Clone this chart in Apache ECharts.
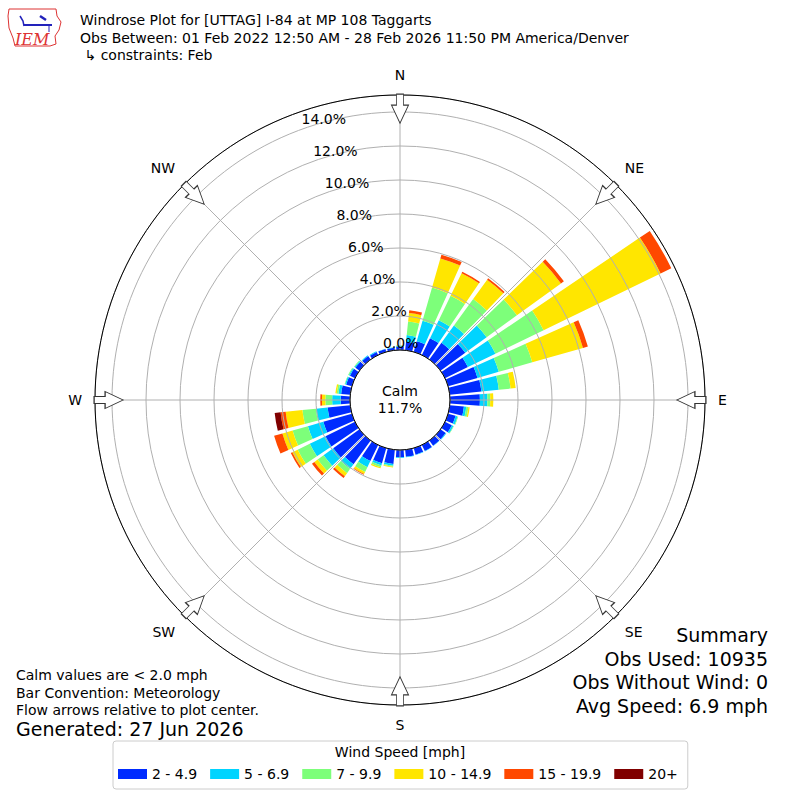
<!DOCTYPE html>
<html><head><meta charset="utf-8">
<script src="https://cdn.jsdelivr.net/npm/echarts@6/dist/echarts.min.js"></script>
<style>html,body{margin:0;padding:0;background:#fff}#c{width:800px;height:800px}</style>
</head><body><div id="c"></div>
<script>
// ---------------- data ----------------
const directions = [0,10,20,30,40,50,60,70,80,90,100,110,120,130,140,150,160,170,180,190,200,210,220,230,240,250,260,270,280,290,300,310,320,330,340,350];
const speedBins = ['2 - 4.9','5 - 6.9','7 - 9.9','10 - 14.9','15 - 19.9','20+'];
// percent of observations per direction, per speed bin
const pct_2_4_9   = [0.2,0.5,0.65,1.1,1.22,1.8,1.5,1.8,1.87,1.76,0.84,0.46,0.45,0.38,0.38,0.4,0.4,0.42,0.42,0.84,0.92,1.05,1.72,1.91,1.93,1.75,1.34,0.55,0.54,0.35,0.33,0.3,0.25,0.2,0.18,0.15];
const pct_5_6_9   = [0.05,0.4,1.25,1.18,1.25,1.55,1.8,1.3,1.03,0.44,0.14,0.12,0.1,0.04,0.02,0.02,0.02,0.03,0.05,0.1,0.14,0.4,0.34,0.7,1.03,0.94,0.69,0.5,0.16,0.07,0.07,0.06,0.05,0.05,0.02,0.03];
const pct_7_9_9   = [0.02,0.8,2.04,1.59,1.93,2.2,3.15,2.05,0.7,0.17,0.12,0.04,0.03,0,0,0,0,0,0,0.06,0.11,0.31,0.31,0.43,0.79,0.94,0.8,0.4,0.1,0.03,0.05,0.04,0,0,0,0];
const pct_10_14_9 = [0,0.5,1.78,1.48,1.4,3.2,7.65,3.1,0.3,0.18,0.08,0,0,0,0,0,0,0,0,0.05,0.07,0.14,0.22,0.24,0.35,0.62,0.99,0.2,0.08,0,0,0,0,0,0,0];
const pct_15_19_9 = [0,0.17,0.23,0.1,0.1,0.21,0.7,0.3,0,0,0,0,0,0,0,0,0,0,0,0,0,0.05,0.13,0.17,0.1,0.51,0.3,0.1,0,0,0,0,0,0,0,0];
const pct_20_plus = [0,0,0,0,0,0,0,0,0,0,0,0,0,0,0,0,0,0,0,0,0,0,0,0,0,0,0.35,0,0,0,0,0,0,0,0,0];
const radialTicks = [0,2,4,6,8,10,12,14];
const compassLabels = ['N','NE','E','SE','S','SW','W','NW'];
const arrowAngles = [0,45,90,135,180,225,270,315];
const calmPct = 11.7;
const summaryLines = ['Summary','Obs Used: 10935','Obs Without Wind: 0','Avg Speed: 6.9 mph'];
const noteLines = ['Calm values are < 2.0 mph','Bar Convention: Meteorology','Flow arrows relative to plot center.'];
const titleLines = ['Windrose Plot for [UTTAG] I-84 at MP 108 Taggarts','Obs Between: 01 Feb 2022 12:50 AM - 28 Feb 2026 11:50 PM America/Denver',' \u21b3 constraints: Feb'];

// ---------------- styles ----------------
const FONT = 'DejaVu Sans';
const speedColors = ['#002BFF','#00D4FF','#7DFF7A','#FFE600','#FF4800','#800000'];
const seriesValues = [pct_2_4_9,pct_5_6_9,pct_7_9_9,pct_10_14_9,pct_15_19_9,pct_20_plus];
const arrowRadius = 14.2;
const RMAX = 15;

const chart = echarts.init(document.getElementById('c'), null, {renderer:'svg'});

const barSeries = speedBins.map((name,i)=>({
  name, type:'bar', coordinateSystem:'polar', polarIndex:1, stack:'wind',
  barCategoryGap:'18%', z:2, silent:true,
  itemStyle:{color:speedColors[i]},
  data: seriesValues[i]
}));

const graphics = [];
titleLines.forEach((t,i)=>graphics.push({type:'text',x:80,y:20+i*17.5,style:{text:t,fontSize:14,fontFamily:FONT,fill:'#000',align:'left',verticalAlign:'middle'}}));
noteLines.forEach((t,i)=>graphics.push({type:'text',x:16,y:675+i*17.5,style:{text:t,fontSize:14,fontFamily:FONT,fill:'#000',align:'left',verticalAlign:'middle'}}));
graphics.push({type:'text',x:16,y:729,style:{text:'Generated: 27 Jun 2026',fontSize:19,fontFamily:FONT,fill:'#000',align:'left',verticalAlign:'middle'}});
summaryLines.forEach((t,i)=>graphics.push({type:'text',x:768,y:635+i*23.5,style:{text:t,fontSize:19,fontFamily:FONT,fill:'#000',align:'right',verticalAlign:'middle'}}));
graphics.push({type:'text',x:400,y:391,z:10,style:{text:'Calm',fontSize:14,fontFamily:FONT,fill:'#000',align:'center',verticalAlign:'middle'}});
graphics.push({type:'text',x:400,y:408,z:10,style:{text:calmPct.toFixed(1)+'%',fontSize:14,fontFamily:FONT,fill:'#000',align:'center',verticalAlign:'middle'}});
graphics.push({type:'text',x:400,y:752,z:10,style:{text:'Wind Speed [mph]',fontSize:14,fontFamily:FONT,fill:'#000',align:'center',verticalAlign:'middle'}});
// IEM logo
graphics.push({type:'polyline',shape:{points:[[9,9],[56,9],[57,16],[61,22],[59,30],[55,36],[56,44],[50,46],[15,46],[13,38],[9,28],[8,16],[9,9]]},style:{stroke:'#d33',fill:'none',lineWidth:1}});
graphics.push({type:'polyline',shape:{points:[[20,16],[23,21],[24,26]]},style:{stroke:'#22b',fill:'none',lineWidth:1.5}});
graphics.push({type:'line',shape:{x1:24,y1:25,x2:52,y2:25},style:{stroke:'#22b',lineWidth:2}});
graphics.push({type:'line',shape:{x1:40,y1:16,x2:46,y2:20},style:{stroke:'#22b',lineWidth:2.5}});
graphics.push({type:'line',shape:{x1:49,y1:25,x2:49,y2:32},style:{stroke:'#22b',lineWidth:1}});
graphics.push({type:'text',x:15,y:39,style:{text:'IEM',fontSize:16,fontFamily:'DejaVu Serif',fontStyle:'italic',fill:'#d33',align:'left',verticalAlign:'middle'}});

const option = {
  animation:false,
  backgroundColor:'#fff',
  textStyle:{fontFamily:FONT},
  polar:[
    {center:['50%','50%'],radius:[50,305]},
    {center:['50%','50%'],radius:[50,305]},
    {center:['50%','50%'],radius:[50,305]}
  ],
  angleAxis:[
    {polarIndex:0,type:'value',min:0,max:360,interval:45,startAngle:90,clockwise:true,z:4,
     axisLine:{show:true,lineStyle:{color:'#000',width:1}},
     axisTick:{show:false},
     axisLabel:{show:true,margin:13,fontSize:14,color:'#000',fontFamily:FONT,
       formatter:v=> v>=360 ? '' : compassLabels[Math.round(v/45)]},
     splitLine:{show:true,lineStyle:{color:'#b0b0b0',width:1}}},
    {polarIndex:1,type:'category',data:directions.map(String),startAngle:95,clockwise:true,boundaryGap:true,show:false},
    {polarIndex:2,type:'value',min:0,max:360,startAngle:110,clockwise:true,show:false}
  ],
  radiusAxis:[
    {polarIndex:0,type:'value',min:0,max:RMAX,interval:2,z:3,
     axisLine:{show:false},axisTick:{show:false},axisLabel:{show:false},
     splitLine:{show:true,lineStyle:{color:'#b0b0b0',width:1}}},
    {polarIndex:1,type:'value',min:0,max:RMAX,show:false},
    {polarIndex:2,type:'value',min:0,max:RMAX,interval:2,z:6,
     axisLine:{show:false},axisTick:{show:false},splitLine:{show:false},
     axisLabel:{show:true,inside:true,margin:0,align:'left',verticalAlign:'bottom',lineHeight:20,
       fontSize:14,color:'#000',fontFamily:FONT,showMaxLabel:true,
       formatter:v=> radialTicks.indexOf(v)>=0 ? v.toFixed(1)+'%' : ''}}
  ],
  legend:{left:113,top:741,orient:'horizontal',itemWidth:29,itemHeight:10,itemGap:13,
    padding:[26,10,8,5],borderColor:'#ccc',borderWidth:1,borderRadius:3,icon:'rect',selectedMode:false,
    textStyle:{fontSize:14,color:'#000',fontFamily:FONT},data:speedBins},
  series: barSeries.concat([{
    type:'scatter',coordinateSystem:'polar',polarIndex:0,z:6,silent:true,
    symbol:'path://M5 0 L12 0 L12 11 L17 11 L8.5 29 L0 11 L5 11 Z',symbolSize:[17,29],
    symbolRotate:(val)=>-val[1],
    itemStyle:{color:'#fff',borderColor:'#333',borderWidth:1,opacity:1},
    data:arrowAngles.map(a=>[arrowRadius,a])
  }]),
  graphic:graphics
};
chart.setOption(option);
</script></body></html>
